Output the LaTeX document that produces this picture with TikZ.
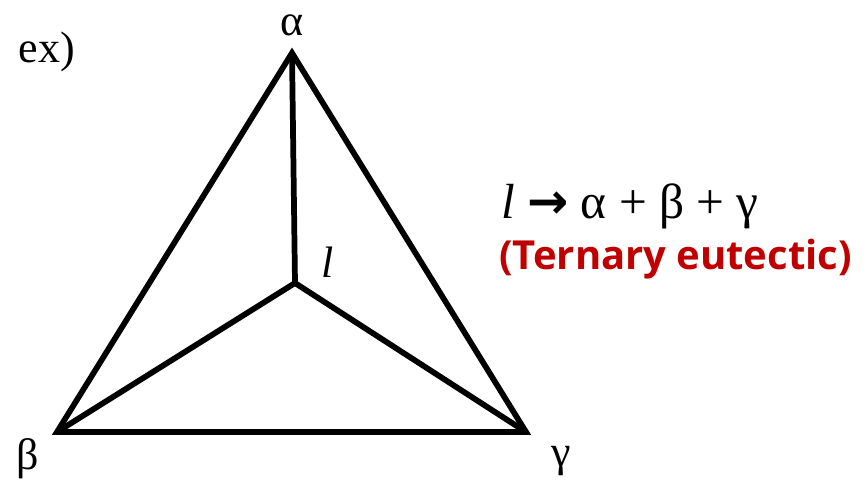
\documentclass[tikz,border=0pt]{standalone}
\usepackage{fontspec}
\setmainfont{Liberation Serif}
\newfontfamily\labfont{Open Sans}
\newfontfamily\arrfont{DejaVu Sans}
\definecolor{darkred}{RGB}{192,0,0}
\begin{document}
\begin{tikzpicture}[x=0.75pt,y=-0.75pt,
  edge/.style={line width=4.3pt,line join=miter,line cap=butt},
  lbl/.style={inner sep=0pt,font=\fontsize{33}{38}\selectfont}]
\useasboundingbox (0,0) rectangle (868,479);
\coordinate (A) at (292,53);
\coordinate (B) at (57,432);
\coordinate (C) at (526,432);
\coordinate (L) at (295,283);
\draw[edge] (A) -- (B) -- (C) -- cycle;
\draw[edge] (A) -- (L);
\draw[edge] (L) -- (B);
\draw[edge] (L) -- (C);
\node[lbl] (ex) at (47,52) {ex)};
\node[lbl] (la) at (292,25) {α};
\node[lbl] (lb) at (28,459) {β};
\node[lbl] (lg) at (561,461) {γ};
\node[lbl] (ll) at (328,262) {\itshape l};
\node[inner sep=0pt,anchor=base west,font=\fontsize{37}{42}\selectfont] (eq) at (501,218) {\itshape l\upshape\ {\arrfont\bfseries →} α + β + γ};
\node[inner sep=0pt,anchor=base west,text=darkred,font=\labfont\bfseries\fontsize{30}{35}\selectfont] (te) at (499,269) {(Ternary eutectic)};
\end{tikzpicture}
\end{document}
